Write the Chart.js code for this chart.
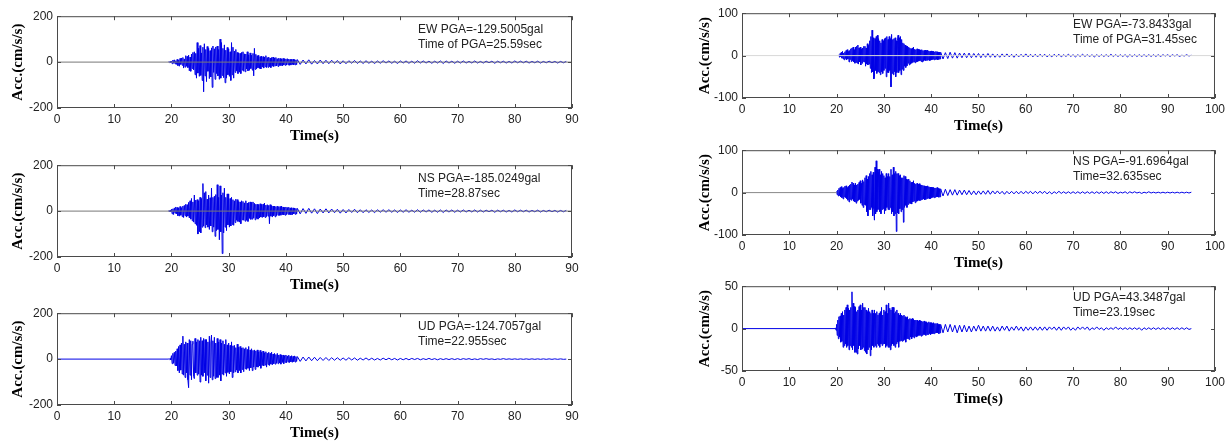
<!DOCTYPE html>
<html>
<head>
<script src="https://cdn.jsdelivr.net/npm/chart.js@4.4.0/dist/chart.umd.min.js"></script>
<style>
  body { margin: 0; background: #fff; width: 1231px; height: 444px; overflow: hidden; position: relative; }
  canvas { position: absolute; }
</style>
</head>
<body>
<canvas id="lew"></canvas>
<canvas id="lns"></canvas>
<canvas id="lud"></canvas>
<canvas id="rew"></canvas>
<canvas id="rns"></canvas>
<canvas id="rud"></canvas>
<script>
// strong motion read every 0.125 s, coda every 0.5 s from 42.5 s on
const strongStep = 0.125;
const tailStart = 42.5;
const tailStep = 0.5;

// ---- left station, 0-90 s, +-200 gal ----
const lTicksX = [0, 10, 20, 30, 40, 50, 60, 70, 80, 90];
const lTicksY = [-200, 0, 200];

const lewStart = 19.5;
const lewStrong = [1, -2, 3, -2,
  4, -7, 9, -5, 10, -8, 6, -10,
  12, -15, 8, -18, 16, -10, 18, -14,
  20, -26, 14, -22, 28, -18, 25, -24,
  30, -38, 22, -40, 35, -28, 42, -34,
  45, -55, 38, -70, 85, -48, 60, -62,
  72, -58, 40, -80, 65, -129.5, 80, -60,
  55, -85, 68, -40, 60, -72, 50, -65,
  62, -110, 70, -45, 58, -75, 66, -50,
  70, -60, 55, -75, 100, -70, 85, -58,
  60, -68, 75, -90, 52, -70, 64, -55,
  58, -62, 45, -80, 85, -55, 65, -70,
  48, -45, 55, -38, 42, -50, 40, -44,
  38, -50, 42, -35, 45, -40, 36, -42,
  35, -30, 45, -38, 32, -36, 40, -28,
  30, -35, 38, -60, 60, -32, 34, -30,
  28, -25, 30, -28, 24, -30, 26, -22,
  24, -26, 22, -20, 28, -24, 20, -23,
  22, -20, 18, -24, 20, -18, 22, -19,
  18, -16, 20, -17, 15, -19, 17, -15,
  16, -15, 14, -17, 16, -13, 15, -14,
  14, -13, 15, -12, 13, -14, 12, -13,
  12, -11, 13, -12, 11, -12, 10, -11,
  11];
const lewTail = [-10, 9, -8, 10, -9, 7, -8, 9, -7, 8,
  -7, 8, -6, 7, -8, 6, -7, 6, -5, 7,
  -6, 5, -6, 6, -5, 4, -6, 5, -5, 6,
  -4, 5, -5, 4, -6, 5, -4, 5, -5, 4,
  -5, 6, -4, 5, -4, 4, -5, 4, -4, 5,
  -6, 5, -4, 4, -5, 4, -4, 5, -4, 3,
  -4, 5, -4, 3, -4, 4, -3, 4, -5, 4,
  -3, 4, -4, 3, -4, 5, -3, 4, -3, 4,
  -4, 3, -3, 4, -4, 3, -3, 4, -3, 3,
  -4, 3, -3, 3];
const lewBase = [{x: 0, y: 0}, {x: 90, y: 0}];
const lewNote = ['EW PGA=-129.5005gal', 'Time of PGA=25.59sec'];

const lnsStart = 19.5;
const lnsStrong = [2, -3, 4, -3,
  8, -12, 10, -15, 14, -9, 18, -12,
  16, -20, 14, -22, 20, -18, 15, -24,
  22, -28, 25, -20, 30, -26, 28, -22,
  38, -30, 45, -35, 55, -42, 40, -48,
  70, -55, 48, -62, 50, -100, 45, -90,
  60, -95, 55, -70, 120, -65, 80, -72,
  85, -60, 52, -70, 70, -80, 58, -65,
  100, -90, 60, -70, 65, -110, 72, -85,
  115, -80, 60, -125, 110, -90, 70, -185,
  80, -95, 100, -70, 60, -85, 75, -60,
  75, -70, 55, -65, 60, -58, 50, -62,
  45, -50, 52, -40, 50, -45, 42, -48,
  40, -55, 45, -38, 42, -40, 36, -44,
  45, -40, 35, -45, 38, -32, 40, -36,
  38, -35, 40, -30, 34, -38, 30, -32,
  30, -35, 28, -30, 32, -26, 29, -28,
  30, -25, 35, -28, 26, -24, 28, -22,
  25, -55, 28, -22, 24, -26, 22, -20,
  22, -25, 20, -20, 22, -18, 20, -19,
  20, -18, 22, -16, 18, -17, 16, -18,
  18, -15, 16, -14, 17, -15, 14, -16,
  15, -16, 14, -12, 13, -14, 12, -13,
  12];
const lnsTail = [-12, 11, -10, 12, -9, 10, -11, 9, -8, 10,
  -8, 9, -7, 8, -9, 7, -8, 7, -6, 8,
  -7, 6, -7, 6, -6, 5, -7, 6, -5, 6,
  -5, 6, -5, 5, -6, 5, -5, 6, -5, 4,
  -5, 6, -5, 5, -4, 5, -5, 4, -5, 5,
  -6, 5, -4, 5, -5, 4, -4, 5, -4, 4,
  -4, 5, -4, 4, -4, 4, -3, 4, -5, 4,
  -3, 4, -4, 3, -4, 5, -3, 4, -3, 4,
  -4, 3, -3, 4, -4, 3, -3, 4, -3, 3,
  -4, 3, -3, 3];
const lnsBase = [{x: 0, y: 0}, {x: 90, y: 0}];
const lnsNote = ['NS PGA=-185.0249gal', 'Time=28.87sec'];

const ludStart = 19.5;
const ludStrong = [1, -2, 3, -4,
  15, -20, 25, -18, 30, -28, 35, -30,
  45, -50, 55, -60, 62, -48, 70, -65,
  100, -70, 65, -80, 75, -60, 70, -90,
  -124.7, 85, -70, 80, -90, 65, 78, -75,
  -85, 90, -60, 75, -70, 85, -65, 80,
  -100, 95, -70, 80, -75, 90, -60, 85,
  -95, 85, -70, 75, -105, 100, -80, 70,
  105, -90, 80, -75, 95, -85, 70, -80,
  90, -80, 75, -70, 85, -95, 70, -65,
  80, -70, 65, -60, 85, -75, 62, -58,
  70, -65, 60, -55, 75, -80, 58, -60,
  60, -55, 50, -48, 65, -60, 52, -50,
  55, -60, 48, -45, 50, -55, 45, -42,
  50, -45, 42, -40, 55, -50, 40, -38,
  45, -50, 38, -35, 40, -45, 36, -34,
  40, -35, 32, -30, 38, -40, 30, -28,
  35, -30, 28, -26, 32, -35, 26, -24,
  30, -28, 25, -22, 30, -25, 22, -20,
  25, -22, 20, -18, 25, -20, 18, -17,
  20, -22, 17, -15, 18, -20, 15, -14,
  18, -16, 14, -13, 17, -15, 12, -12,
  15, -14, 12, -11, 14, -13, 11, -10,
  11];
const ludTail = [-10, 9, -8, 9, -7, 8, -7, 7, -6, 7,
  -6, 6, -5, 6, -5, 5, -5, 6, -4, 5,
  -5, 4, -4, 5, -4, 4, -4, 3, -4, 4,
  -3, 4, -3, 3, -4, 3, -3, 3, -3, 3,
  -2, 3, -3, 2, -2, 3, -2, 2, -3, 2,
  -2, 2, -2, 2, -2, 2, -2, 2, -1, 2,
  -2, 1, -2, 2, -1, 2, -1, 1, -2, 1,
  -1, 2, -1, 1, -1, 1, -1, 1, -1, 1,
  -1, 1, -1, 1, -1, 1, -1, 1, -1, 1,
  -1, 1, -1, 0];
const ludBase = [{x: 0, y: 0}, {x: 19.5, y: 0}];
const ludNote = ['UD PGA=-124.7057gal', 'Time=22.955sec'];

// ---- right station, 0-100 s ----
const rTicksX = [0, 10, 20, 30, 40, 50, 60, 70, 80, 90, 100];
const rTicksY = [-100, 0, 100];
const rTicksYud = [-50, 0, 50];

const rewStart = 20.5;
const rewStrong = [2, -4, 5, -3,
  8, -6, 10, -8, 6, -10, 9, -7,
  12, -10, 14, -8, 10, -15, 12, -9,
  16, -14, 18, -12, 20, -15, 14, -18,
  20, -16, 22, -18, 25, -20, 18, -15,
  20, -22, 16, -18, 18, -14, 22, -15,
  22, -25, 18, -20, 28, -22, 24, -20,
  35, -30, 45, -40, 60, -38, 42, -55,
  -50, 40, -35, 45, -42, 48, -38, 40,
  -40, 35, -45, 30, -38, 38, -42, 35,
  -35, 40, -30, 42, -50, 45, -40, 38,
  -40, 45, -35, 40, -73.8, 50, -42, 38,
  -45, 40, -38, 42, -50, 35, -40, 36,
  48, -40, 42, -35, 45, -45, 38, -32,
  30, -35, 28, -25, 25, -28, 22, -24,
  22, -18, 20, -22, 18, -20, 16, -18,
  18, -16, 20, -15, 15, -17, 14, -15,
  16, -14, 15, -13, 14, -12, 13, -14,
  14, -15, 12, -13, 12, -11, 13, -12,
  12, -11, 13, -10, 11, -12, 10, -11,
  11, -10, 10, -9, 10, -10, 9, -9,
  10, -9, 9, -10, 8, -9, 8, -8,
  8];
const rewTail = [-8, 7, -7, 8, -6, 7, -6, 6, -5, 6,
  -5, 6, -5, 5, -4, 5, -5, 4, -4, 5,
  -4, 4, -4, 3, -4, 4, -3, 4, -3, 3,
  -4, 3, -3, 3, -3, 4, -3, 3, -3, 3,
  -3, 3, -2, 3, -3, 2, -3, 3, -2, 3,
  -3, 2, -2, 3, -2, 2, -3, 2, -2, 3,
  -2, 2, -2, 2, -3, 2, -2, 2, -2, 2,
  -2, 3, -2, 2, -2, 2, -2, 2, -3, 2,
  -2, 2, -2, 2, -2, 2, -2, 2, -2, 2,
  -2, 2, -2, 2, -1, 2, -2, 2, -1, 2,
  -2, 1, -1, 2, -1, 1];
const rewBase = [{x: 0, y: 0}, {x: 100, y: 0}];
const rewNote = ['EW PGA=-73.8433gal', 'Time of PGA=31.45sec'];

const rnsStart = 20;
const rnsStrong = [
  3, -5, 6, -8, 10, -7, 12, -10,
  14, -12, 10, -15, 12, -10, 15, -12,
  16, -14, 12, -18, 15, -22, 18, -16,
  20, -18, 25, -15, 22, -20, 18, -22,
  22, -25, 18, -20, 20, -18, 24, -16,
  28, -25, 22, -30, 30, -35, 26, -28,
  35, -30, 40, -45, 32, -55, 38, -40,
  45, -40, 50, -35, 42, -55, 48, -38,
  -65, 60, -50, 75, -45, 55, -40, 50,
  55, -45, 42, -50, 50, -40, 45, -38,
  40, -50, 35, -42, 45, -35, 38, -40,
  45, -40, 38, -35, 55, -50, 42, -45,
  60, -55, 45, -50, 50, -91.7, 45, -48,
  45, -50, 40, -38, 42, -45, 35, -40,
  35, -70, 40, -35, 38, -30, 32, -35,
  30, -28, 32, -25, 28, -26, 24, -27,
  25, -22, 28, -20, 22, -24, 20, -21,
  22, -20, 20, -18, 21, -19, 18, -17,
  18, -16, 17, -15, 16, -17, 15, -16,
  15, -14, 16, -13, 14, -15, 13, -14,
  13, -12, 12, -11, 12, -12, 11, -11,
  11, -10, 12, -10, 10, -11, 9, -10,
  9];
const rnsTail = [-8, 8, -7, 7, -6, 7, -6, 6, -5, 6,
  -5, 5, -5, 4, -5, 4, -4, 4, -4, 5,
  -4, 4, -3, 4, -3, 3, -4, 3, -3, 3,
  -3, 3, -3, 3, -3, 3, -2, 3, -3, 3,
  -2, 3, -2, 3, -3, 2, -3, 2, -2, 3,
  -2, 2, -2, 2, -2, 2, -2, 2, -2, 2,
  -2, 2, -2, 2, -2, 2, -2, 2, -2, 2,
  -2, 2, -1, 2, -2, 1, -1, 2, -2, 2,
  -1, 2, -1, 1, -2, 1, -1, 2, -1, 1,
  -1, 1, -1, 1, -1, 1, -1, 1, -1, 1,
  -1, 1, -1, 1, -1, 1];
const rnsBase = [{x: 0, y: 0}, {x: 20, y: 0}];
const rnsNote = ['NS PGA=-91.6964gal', 'Time=32.635sec'];

const rudStart = 19.75;
const rudStrong = [1, -2,
  5, -8, 10, -12, 14, -10, 15, -16,
  18, -15, 20, -22, 16, -20, 22, -18,
  25, -22, 28, -20, 24, -25, 22, -20,
  25, -22, 43.35, -25, 30, -20, 26, -28,
  25, -28, 20, -30, 22, -24, 26, -20,
  28, -25, 22, -24, 30, -22, 25, -26,
  25, -28, 22, -30, 20, -25, 24, -22,
  20, -32, 18, -25, 22, -20, 18, -22,
  22, -20, 18, -22, 20, -18, 16, -20,
  18, -22, 20, -18, 25, -20, 16, -18,
  22, -18, 20, -22, 28, -20, 18, -22,
  30, -22, 24, -25, 22, -20, 25, -18,
  25, -20, 18, -22, 20, -18, 22, -16,
  18, -22, 16, -15, 18, -14, 16, -15,
  15, -14, 16, -13, 14, -16, 13, -12,
  14, -12, 11, -13, 12, -10, 11, -12,
  12, -10, 11, -11, 10, -9, 10, -10,
  10, -9, 9, -8, 10, -8, 9, -9,
  9, -8, 8, -7, 9, -7, 8, -8,
  8, -7, 7, -7, 8, -6, 7, -7,
  7, -6, 6, -6, 7, -6, 6, -5,
  6, -5, 6, -5, 5, -6, 5, -5,
  5];
const rudTail = [-5, 5, -4, 5, -4, 4, -5, 4, -4, 4,
  -4, 3, -4, 3, -3, 4, -3, 3, -3, 3,
  -3, 3, -3, 2, -3, 3, -2, 3, -3, 2,
  -2, 3, -2, 2, -3, 2, -2, 2, -2, 2,
  -2, 2, -2, 2, -2, 2, -1, 2, -2, 2,
  -2, 2, -1, 2, -2, 1, -2, 2, -1, 2,
  -1, 2, -2, 1, -1, 2, -1, 1, -2, 1,
  -1, 1, -1, 2, -1, 1, -1, 1, -1, 1,
  -1, 1, -1, 1, -2, 1, -1, 1, -1, 1,
  -1, 1, -1, 1, -1, 1, -1, 1, -1, 1,
  -1, 1, -1, 1, -1, 0];
const rudBase = [{x: 0, y: 0}, {x: 19.75, y: 0}];
const rudNote = ['UD PGA=43.3487gal', 'Time=23.19sec'];

function series(start, strong, tail) {
  const pts = [];
  strong.forEach((v, i) => pts.push({x: start + i * strongStep, y: v}));
  tail.forEach((v, i) => pts.push({x: tailStart + i * tailStep, y: v}));
  return pts;
}

// frame with inward ticks (matlab style) + PGA note
const boxPlugin = {
  id: 'box',
  afterDatasetsDraw(chart, args, opts) {
    const ctx = chart.ctx, a = chart.chartArea;
    const sx = chart.scales.x, sy = chart.scales.y;
    ctx.save();
    ctx.strokeStyle = '#4a4a4a';
    ctx.lineWidth = 1;
    ctx.strokeRect(a.left + 0.5, a.top + 0.5, a.right - a.left - 1, a.bottom - a.top - 1);
    ctx.beginPath();
    sx.ticks.forEach(t => {
      const px = Math.round(sx.getPixelForValue(t.value)) + 0.5;
      ctx.moveTo(px, a.bottom); ctx.lineTo(px, a.bottom - 4);
      ctx.moveTo(px, a.top); ctx.lineTo(px, a.top + 4);
    });
    sy.ticks.forEach(t => {
      const py = Math.round(sy.getPixelForValue(t.value)) + 0.5;
      ctx.moveTo(a.left, py); ctx.lineTo(a.left + 4, py);
      ctx.moveTo(a.right, py); ctx.lineTo(a.right - 4, py);
    });
    ctx.stroke();
    ctx.fillStyle = '#222';
    ctx.font = '12px "Liberation Sans", Arial, sans-serif';
    ctx.textBaseline = 'middle';
    opts.lines.forEach((s, i) => ctx.fillText(s, a.left + opts.dx, a.top + opts.dy + i * 15.5));
    ctx.restore();
  }
};

function makeChart(id, pos, xmax, ticksX, ticksY, base, baseColor, pts, note) {
  const cv = document.getElementById(id);
  cv.width = pos.w; cv.height = pos.h;
  cv.style.left = pos.left + 'px'; cv.style.top = pos.top + 'px';
  const ymax = ticksY[ticksY.length - 1];
  return new Chart(cv, {
    type: 'line',
    data: {
      datasets: [
        {data: base, borderColor: baseColor, borderWidth: 1, pointRadius: 0},
        {data: pts, borderColor: '#0000e6', borderWidth: 1, pointRadius: 0}
      ]
    },
    options: {
      responsive: false,
      animation: false,
      devicePixelRatio: 1,
      layout: {padding: {top: 8, left: 0, right: pos.padR, bottom: 0}},
      plugins: {
        legend: {display: false},
        tooltip: {enabled: false},
        box: {lines: note, dx: pos.noteX, dy: pos.noteY}
      },
      scales: {
        x: {
          type: 'linear', min: 0, max: xmax,
          afterBuildTicks: s => { s.ticks = ticksX.map(v => ({value: v})); },
          grid: {display: false, drawTicks: false},
          border: {display: false},
          ticks: {color: '#222', padding: 4, maxRotation: 0, font: {family: '"Liberation Sans", Arial', size: 12}},
          title: {display: true, text: 'Time(s)', color: '#000', padding: {top: 0, bottom: 8},
                  font: {family: '"Liberation Serif", "Times New Roman"', size: 15, weight: 'bold'}},
          afterFit: s => { s.height = 45; }
        },
        y: {
          min: -ymax, max: ymax,
          afterBuildTicks: s => { s.ticks = ticksY.map(v => ({value: v})); },
          grid: {display: false, drawTicks: false},
          border: {display: false},
          ticks: {color: '#222', padding: 4, font: {family: '"Liberation Sans", Arial', size: 12}},
          title: {display: true, text: 'Acc.(cm/s/s)', color: '#000', padding: {top: pos.titlePad, bottom: 0},
                  font: {family: '"Liberation Serif", "Times New Roman"', size: 15, weight: 'bold'}},
          afterFit: s => { s.width = pos.yw; }
        }
      }
    },
    plugins: [boxPlugin]
  });
}

const leftPos = top => ({left: 0, top: top, w: 592, h: 148, yw: 57, padR: 20, titlePad: 9, noteX: 361, noteY: 13});
const rightPos = top => ({left: 680, top: top, w: 549, h: 141, yw: 62, padR: 12, titlePad: 16, noteX: 331, noteY: 11});

makeChart('lew', leftPos(5), 90, lTicksX, lTicksY, lewBase, '#777', series(lewStart, lewStrong, lewTail), lewNote);
makeChart('lns', leftPos(154), 90, lTicksX, lTicksY, lnsBase, '#777', series(lnsStart, lnsStrong, lnsTail), lnsNote);
makeChart('lud', leftPos(302), 90, lTicksX, lTicksY, ludBase, '#0000e6', series(ludStart, ludStrong, ludTail), ludNote);
makeChart('rew', rightPos(2), 100, rTicksX, rTicksY, rewBase, '#d8d8d8', series(rewStart, rewStrong, rewTail), rewNote);
makeChart('rns', rightPos(139), 100, rTicksX, rTicksY, rnsBase, '#888', series(rnsStart, rnsStrong, rnsTail), rnsNote);
makeChart('rud', rightPos(275), 100, rTicksX, rTicksYud, rudBase, '#0000e6', series(rudStart, rudStrong, rudTail), rudNote);
</script>
</body>
</html>
